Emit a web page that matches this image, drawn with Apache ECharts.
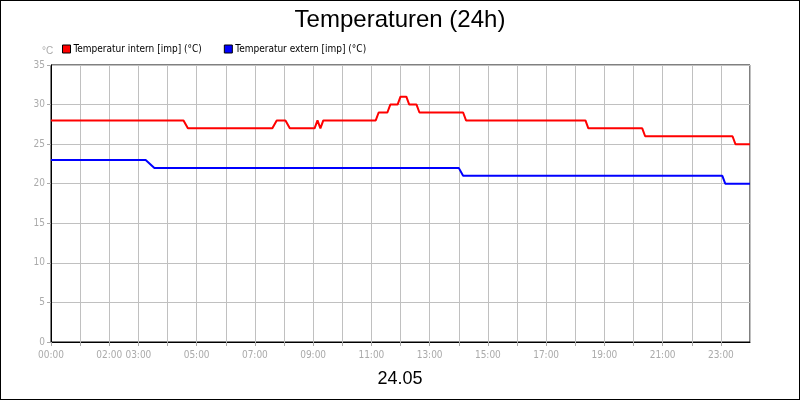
<!DOCTYPE html>
<html><head><meta charset="utf-8">
<script src="https://cdn.jsdelivr.net/npm/echarts@6/dist/echarts.min.js"></script>
<style>html,body{margin:0;padding:0}#c{width:798px;height:398px;border:1px solid #000}</style>
</head><body><div id="c"></div>
<script>
const seriesNames = ['Temperatur intern [imp] (°C)', 'Temperatur extern [imp] (°C)'];
const seriesColors = ['#ff0000', '#0000ff'];
// [hour, °C]
const intern = [[0,28],[4.55,28],[4.7,27],[7.6,27],[7.75,28],[8.05,28],[8.2,27],[9.05,27],[9.15,28],[9.25,27],[9.35,28],[11.15,28],[11.25,29],[11.55,29],[11.65,30],[11.9,30],[12.0,31],[12.2,31],[12.3,30],[12.55,30],[12.65,29],[14.15,29],[14.25,28],[18.35,28],[18.45,27],[20.3,27],[20.4,26],[23.4,26],[23.5,25],[24,25]];
const extern = [[0,23],[3.25,23],[3.55,22],[14.0,22],[14.15,21],[23.05,21],[23.15,20],[24,20]];
const xLabels = {0:'00:00',2:'02:00',3:'03:00',5:'05:00',7:'07:00',9:'09:00',11:'11:00',13:'13:00',15:'15:00',17:'17:00',19:'19:00',21:'21:00',23:'23:00'};
const chart = echarts.init(document.getElementById('c'));
chart.setOption({
  animation:false,
  title:[{text:'Temperaturen (24h)',left:'center',top:2,textStyle:{fontFamily:'Liberation Sans',fontSize:24,fontWeight:'normal',color:'#000'}},
         {text:'24.05',left:'center',top:364,textStyle:{fontFamily:'Liberation Sans',fontSize:18,fontWeight:'normal',color:'#000'}},
         {text:'°C',left:36,top:40,textStyle:{fontFamily:'Liberation Sans',fontSize:10,fontWeight:'normal',color:'#aaa'}}],
  legend:{left:56,top:38,itemWidth:8,itemHeight:8,itemGap:22,icon:'rect',textStyle:{fontFamily:'DejaVu Sans Condensed',fontSize:10,color:'#000',padding:[0,0,0,-2]},
    data:seriesNames.map((n,i)=>({name:n,itemStyle:{color:seriesColors[i],borderColor:'#000',borderWidth:1}}))},
  grid:{left:50,right:49,top:64,bottom:57,show:true,borderColor:'#000',borderWidth:1},
  xAxis:{type:'value',min:0,max:24,interval:1,
    axisLine:{lineStyle:{color:'#000'}},axisTick:{length:4,lineStyle:{color:'#aaa'}},
    axisLabel:{color:'#aaa',fontSize:10,fontFamily:'DejaVu Sans Condensed',formatter:v=>xLabels[v]||'',showMaxLabel:false},
    splitLine:{lineStyle:{color:'#c0c0c0'}}},
  yAxis:{type:'value',min:0,max:35,interval:5,
    axisLine:{show:true,lineStyle:{color:'#000'}},axisTick:{show:true,length:4,lineStyle:{color:'#aaa'}},
    axisLabel:{color:'#aaa',fontSize:10,fontFamily:'DejaVu Sans Condensed',margin:6},
    splitLine:{lineStyle:{color:'#c0c0c0'}}},
  series:[
    {name:seriesNames[0],type:'line',data:intern,symbol:'none',lineStyle:{color:seriesColors[0],width:2},itemStyle:{color:seriesColors[0]}},
    {name:seriesNames[1],type:'line',data:extern,symbol:'none',lineStyle:{color:seriesColors[1],width:2},itemStyle:{color:seriesColors[1]}}
  ]
});
</script></body></html>
